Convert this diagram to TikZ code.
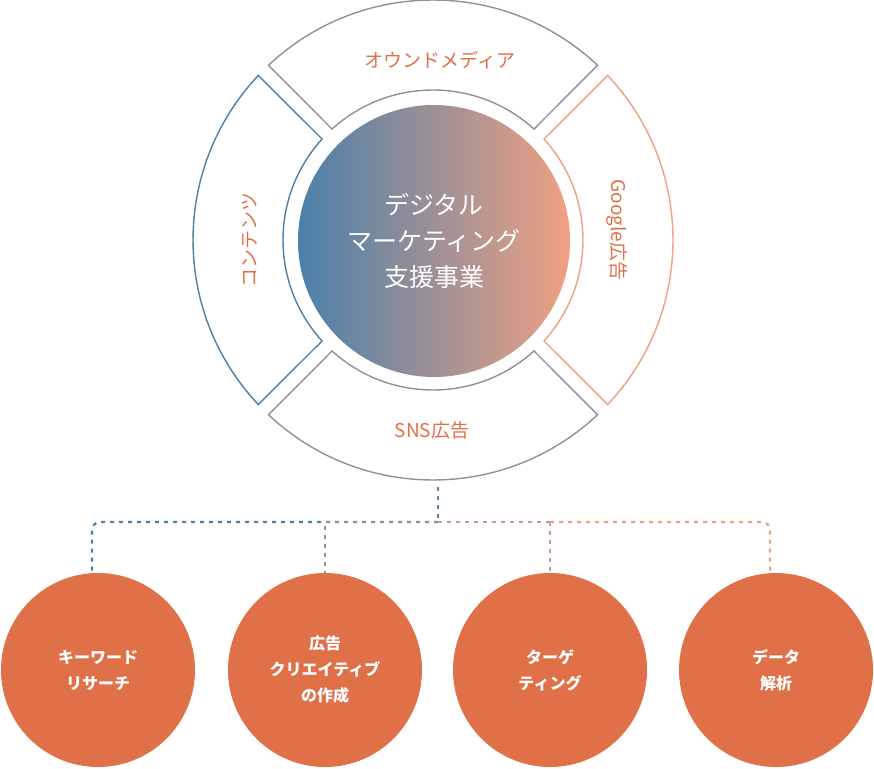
\documentclass[tikz,border=0pt]{standalone}
\usepackage{fontspec}
\setmainfont{Noto Sans CJK JP}
\usepackage{tikz}

\definecolor{dmblue}{RGB}{74,128,170}
\definecolor{dmsalmon}{RGB}{240,160,130}
\definecolor{dmmid}{RGB}{150,140,155}
\definecolor{dmorange}{RGB}{224,112,72}

\tikzset{
  ringlabel/.style={text=dmorange,font=\fontsize{19}{22}\selectfont},
  taskcircle/.style={circle,fill=dmorange,minimum size=194pt,inner sep=0pt,align=center,
    text=white,font=\bfseries\fontsize{16}{26}\selectfont},
  dotline/.style={line width=2.2pt,dash pattern=on 4pt off 5pt}
}

\begin{document}
\begin{tikzpicture}[x=1pt,y=-1pt]
\useasboundingbox (0,0) rectangle (874,768);

%ring segments
\begin{scope}[shift={(433,240)},line width=1.4pt]
\foreach \a/\col in {0/dmsalmon,90/dmmid,180/dmblue,270/dmmid}
  \draw [\col] (\a-43.3:240) arc[start angle=\a-43.3,end angle=\a+43.3,radius=240]
    -- (\a+42.3:150) arc[start angle=\a+42.3,end angle=\a-42.3,radius=150] -- cycle;
\end{scope}

%center
\shade [left color=dmblue,right color=dmsalmon] (434,241) circle (136);
\node (hub) [text=white,align=center,font=\fontsize{25}{36}\selectfont] at (434,241)
  {デジタル\\マーケティング\\支援事業};

\node (owned) [ringlabel] at (440,60) {オウンドメディア};
\node (sns) [ringlabel] at (432,430) {SNS広告};
\node (content) [ringlabel,rotate=90] at (250,240) {コンテンツ};
\node (google) [ringlabel,rotate=-90] at (617,230) {Google広告};

%tasks
\node (kw) [taskcircle] at (98,670) {キーワード\\リサーチ};
\node (ad) [taskcircle] at (325,670) {広告\\クリエイティブ\\の作成};
\node (tg) [taskcircle] at (550,670) {ターゲ\\ティング};
\node (da) [taskcircle] at (776,670) {データ\\解析};

\coordinate (hubdot) at (438,487);
\coordinate (junc) at (438,522);
\draw [dotline,dmblue!70!dmmid] (hubdot) -- (junc);
\draw [dotline,dmblue,rounded corners=8pt] (junc) -- (92,522) -- (kw.north -| 92,0);
\draw [dotline,dmmid] (junc) -- (325,522) -- (ad.north);
\draw [dotline,dmsalmon!60!dmmid] (junc) -- (550,522);
\draw [dotline,dmsalmon!60!dmmid] (550,522) -- (tg.north);
\draw [dotline,dmsalmon,rounded corners=8pt] (550,522) -- (770,522) -- (da.north -| 770,0);
\end{tikzpicture}
\end{document}
